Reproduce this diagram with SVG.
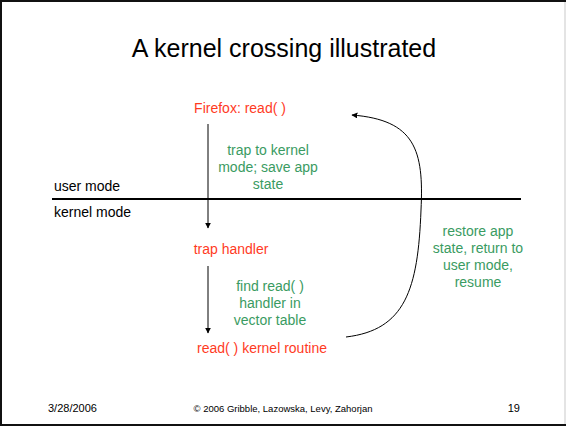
<svg xmlns="http://www.w3.org/2000/svg" width="566" height="426" viewBox="0 0 566 426">
<style>
text{font-family:"Liberation Sans",Arial,sans-serif}
.red{fill:#ff3b1f;font-size:14px;text-anchor:middle}
.grn{fill:#3a9b62;font-size:14px;text-anchor:middle}
.blk{fill:#000;font-size:14px}
.ft{fill:#000;font-size:11px}
.ln{stroke:#000;fill:none}
</style>
<defs>
<marker id="ah" viewBox="0 0 10 10" refX="9" refY="5" markerWidth="6" markerHeight="6" markerUnits="userSpaceOnUse" orient="auto">
<path d="M0,0 L10,5 L0,10 z" fill="#000"/>
</marker>
</defs>
<rect x="0" y="0" width="566" height="426" fill="#fff"/>
<g id="frame">
<line x1="0" y1="1" x2="566" y2="1" stroke="#111" stroke-width="2"/>
<line x1="1" y1="0" x2="1" y2="426" stroke="#111" stroke-width="2"/>
<line x1="0" y1="425" x2="566" y2="425" stroke="#111" stroke-width="2"/>
<line x1="565" y1="2" x2="565" y2="424" stroke="#e4e4e4" stroke-width="2"/>
</g>
<text x="284" y="57" style="font-size:25px;text-anchor:middle">A kernel crossing illustrated</text>
<g id="boundary">
<line x1="52" y1="199" x2="521" y2="199" stroke="#000" stroke-width="2"/>
<text class="blk" x="54" y="191">user mode</text>
<text class="blk" x="54" y="217">kernel mode</text>
</g>
<g id="connectors">
<line class="ln" x1="208" y1="124" x2="208" y2="228" marker-end="url(#ah)"/>
<line class="ln" x1="208" y1="266" x2="208" y2="333" marker-end="url(#ah)"/>
<path class="ln" d="M346,337 C405,330 418,290 421,210 C424,150 415,120 352,115" marker-end="url(#ah)"/>
</g>
<g id="firefox"><text class="red" x="240" y="113">Firefox: read( )</text></g>
<g id="trap-label">
<text class="grn" x="268" y="155">trap to kernel</text>
<text class="grn" x="268" y="172">mode; save app</text>
<text class="grn" x="268" y="189">state</text>
</g>
<g id="trap-handler"><text class="red" x="231" y="254">trap handler</text></g>
<g id="find-label">
<text class="grn" x="270" y="291">find read( )</text>
<text class="grn" x="270" y="308">handler in</text>
<text class="grn" x="270" y="325">vector table</text>
</g>
<g id="kernel-routine"><text class="red" x="262" y="353">read( ) kernel routine</text></g>
<g id="restore-label">
<text class="grn" x="478" y="236">restore app</text>
<text class="grn" x="478" y="253">state, return to</text>
<text class="grn" x="478" y="270">user mode,</text>
<text class="grn" x="478" y="287">resume</text>
</g>
<g id="footer">
<text class="ft" x="48" y="412">3/28/2006</text>
<text class="ft" x="283" y="412" style="font-size:9.5px;text-anchor:middle">© 2006 Gribble, Lazowska, Levy, Zahorjan</text>
<text class="ft" x="520" y="412" style="text-anchor:end">19</text>
</g>
</svg>
